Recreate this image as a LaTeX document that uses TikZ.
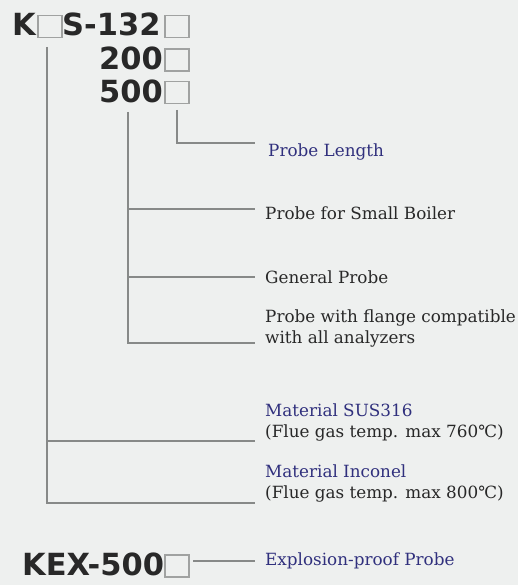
\documentclass[tikz,border=0pt]{standalone}
\usepackage{fontspec}
\setmainfont{DejaVu Serif}
\newfontfamily\codefont{DejaVu Sans}
\usetikzlibrary{positioning}

\definecolor{bgcol}{RGB}{238,240,239}
\definecolor{linecol}{RGB}{135,137,136}
\definecolor{slotcol}{RGB}{160,162,161}
\definecolor{bluetext}{RGB}{48,48,125}
\definecolor{darktext}{RGB}{40,40,40}

\tikzset{
  code/.style={font=\codefont\bfseries\fontsize{30.5}{30.5}\selectfont, inner sep=0pt, text=darktext},
  slot/.style={draw=slotcol, line width=1.2pt, minimum width=24pt, minimum height=22pt, inner sep=0pt},
  note/.style={font=\fontsize{16.8}{20.5}\selectfont, inner sep=0pt, anchor=base west, align=left, text=darktext},
  bluenote/.style={note, text=bluetext},
  tree/.style={draw=linecol, line width=1.3pt, shorten >=10pt},
}

\begin{document}
\begin{tikzpicture}[x=1pt, y=-1pt]

\fill[bgcol] (0,0) rectangle (518,585);
\useasboundingbox (0,0) rectangle (518,585);

% model code
\node[code, anchor=base west] (k) at (12,36) {K};
\node[slot] (ka) at (50,26.5) {};
\node[code, anchor=base west] (s132) at (62,36) {S-132};
\node[slot] (len1) at (177,26.5) {};
\node[code, anchor=base east] (n200) at (163,70) {200};
\node[slot] (len2) at (177,60) {};
\node[code, anchor=base east] (n500) at (163,103) {500};
\node[slot] (len3) at (177,92.5) {};

% descriptions
\node[bluenote] (lenlbl) at (268,157) {Probe Length};
\node[note] (boillbl) at (265,219) {Probe for Small Boiler};
\node[note] (genlbl) at (265,283) {General Probe};
\node[note] (flglbl) at (265,343) {Probe with flange compatible\\with all analyzers};
\node[bluenote] (suslbl) at (265,437) {Material SUS316\\\textcolor{darktext}{(Flue gas temp. max 760℃)}};
\node[bluenote] (inclbl) at (265,498) {Material Inconel\\\textcolor{darktext}{(Flue gas temp. max 800℃)}};

% explosion-proof
\node[code, anchor=base west] (kex) at (22,575) {KEX-500};
\node[slot] (kexslot) at (177,566) {};
\node[bluenote] (explbl) at (265,565) {Explosion-proof Probe};

% branch points
\coordinate (ltop) at (47,47);
\coordinate (lsus) at (47,441);
\coordinate (linc) at (47,503);
\coordinate (mtop) at (128,112);
\coordinate (mboil) at (128,209);
\coordinate (mgen) at (128,277);
\coordinate (mflg) at (128,343);
\coordinate (ptop) at (177,110);
\coordinate (plen) at (177,143);
\coordinate (kexj) at (193,561);

\draw[tree, shorten >=13pt] (ptop) -- (plen) -- (plen -| lenlbl.west);
\draw[tree] (mtop) -- (mflg) -- (mflg -| flglbl.west);
\draw[tree] (mboil) -- (mboil -| boillbl.west);
\draw[tree] (mgen) -- (mgen -| genlbl.west);
\draw[tree] (ltop) -- (linc) -- (linc -| inclbl.west);
\draw[tree] (lsus) -- (lsus -| suslbl.west);
\draw[tree] (kexj) -- (kexj -| explbl.west);

\end{tikzpicture}
\end{document}
